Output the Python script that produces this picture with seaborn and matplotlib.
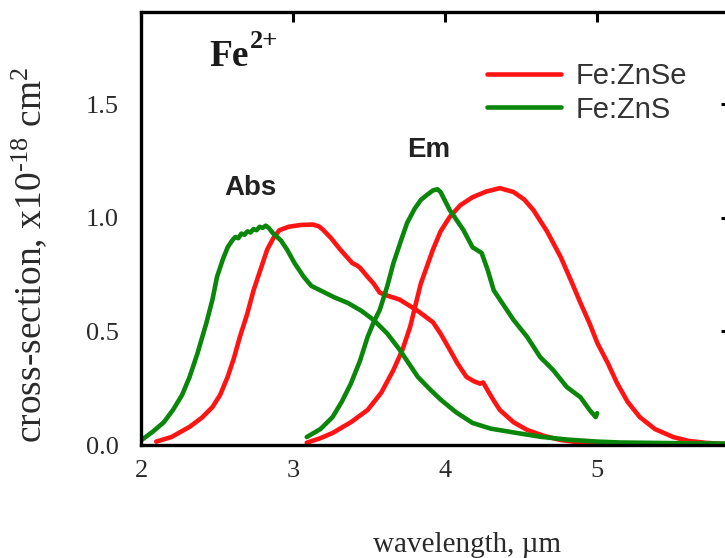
import matplotlib
matplotlib.use("Agg")
import matplotlib.pyplot as plt
import seaborn as sns
import pandas as pd

# ---- data ----
abs_znse_x = [2.10, 2.20, 2.32, 2.40, 2.47, 2.52, 2.57, 2.61, 2.65, 2.70, 2.74, 2.79, 2.83, 2.87, 2.91, 2.97,
              3.05, 3.13, 3.17, 3.20, 3.25, 3.31, 3.35, 3.39, 3.42, 3.44, 3.49, 3.53, 3.57, 3.63, 3.70, 3.76,
              3.82, 3.87, 3.92, 3.97, 4.03, 4.08, 4.14, 4.19, 4.23, 4.25, 4.28, 4.32, 4.36, 4.45, 4.54, 4.65,
              4.76, 4.90, 5.02, 5.30, 5.60, 5.88]
abs_znse_y = [0.015, 0.035, 0.08, 0.12, 0.167, 0.22, 0.30, 0.38, 0.475, 0.58, 0.68, 0.78, 0.86, 0.91, 0.945, 0.96,
              0.968, 0.97, 0.962, 0.945, 0.91, 0.86, 0.83, 0.80, 0.79, 0.78, 0.74, 0.71, 0.67, 0.655, 0.64, 0.615,
              0.59, 0.565, 0.54, 0.49, 0.42, 0.36, 0.30, 0.28, 0.27, 0.275, 0.24, 0.195, 0.154, 0.10, 0.066, 0.04,
              0.022, 0.01, 0.004, 0.002, 0.001, 0.001]

abs_zns_x = [2.00, 2.08, 2.15, 2.21, 2.27, 2.32, 2.37, 2.43, 2.47, 2.50, 2.54, 2.57, 2.60, 2.62, 2.64, 2.66,
             2.68, 2.70, 2.72, 2.74, 2.76, 2.78, 2.80, 2.82, 2.84, 2.87, 2.92, 2.96, 3.01, 3.07, 3.12, 3.18,
             3.27, 3.36, 3.45, 3.53, 3.62, 3.70, 3.76, 3.82, 3.90, 3.97, 4.07, 4.18, 4.30, 4.47, 4.63, 4.80,
             5.00, 5.15, 5.40, 5.65, 5.88]
abs_zns_y = [0.02, 0.06, 0.10, 0.154, 0.22, 0.30, 0.40, 0.537, 0.64, 0.74, 0.82, 0.87, 0.90, 0.915, 0.91, 0.93,
             0.925, 0.94, 0.935, 0.95, 0.945, 0.96, 0.955, 0.965, 0.955, 0.93, 0.90, 0.86, 0.80, 0.74, 0.70, 0.68,
             0.65, 0.625, 0.59, 0.55, 0.49, 0.42, 0.36, 0.30, 0.245, 0.20, 0.145, 0.097, 0.072, 0.053, 0.036, 0.024,
             0.015, 0.011, 0.009, 0.007, 0.006]

em_znse_x = [3.09, 3.18, 3.26, 3.38, 3.49, 3.58, 3.66, 3.72, 3.77, 3.84, 3.92, 3.97, 4.03, 4.10, 4.18, 4.27,
             4.36, 4.45, 4.52, 4.58, 4.67, 4.76, 4.83, 4.89, 4.95, 5.00, 5.07, 5.13, 5.20, 5.28, 5.38, 5.50,
             5.60, 5.72, 5.88]
em_znse_y = [0.01, 0.03, 0.053, 0.10, 0.154, 0.23, 0.33, 0.42, 0.52, 0.71, 0.86, 0.94, 1.003, 1.055, 1.09, 1.115,
             1.13, 1.113, 1.08, 1.034, 0.94, 0.827, 0.72, 0.625, 0.535, 0.45, 0.36, 0.273, 0.19, 0.123, 0.07, 0.035,
             0.018, 0.009, 0.003]

em_zns_x = [3.09, 3.18, 3.26, 3.32, 3.38, 3.44, 3.49, 3.53, 3.57, 3.62, 3.66, 3.71, 3.75, 3.80, 3.84, 3.88,
            3.92, 3.95, 3.97, 4.03, 4.12, 4.18, 4.24, 4.28, 4.32, 4.36, 4.45, 4.54, 4.625, 4.71, 4.80, 4.89,
            4.95, 4.99, 5.00]
em_zns_y = [0.035, 0.07, 0.123, 0.19, 0.27, 0.37, 0.475, 0.54, 0.594, 0.70, 0.80, 0.90, 0.977, 1.04, 1.078, 1.10,
            1.12, 1.125, 1.113, 1.034, 0.946, 0.87, 0.845, 0.77, 0.68, 0.64, 0.55, 0.475, 0.387, 0.33, 0.255, 0.21,
            0.154, 0.123, 0.14]

legend_labels = ["Fe:ZnSe", "Fe:ZnS"]
x_ticks = [2, 3, 4, 5]
y_ticks = [0.0, 0.5, 1.0, 1.5]
y_ticklabels = ["0.0", "0.5", "1.0", "1.5"]

# ---- long-form table ----
frames = []
for xs, ys, mat, kind in [(abs_znse_x, abs_znse_y, "Fe:ZnSe", "Abs"),
                          (em_znse_x, em_znse_y, "Fe:ZnSe", "Em"),
                          (abs_zns_x, abs_zns_y, "Fe:ZnS", "Abs"),
                          (em_zns_x, em_zns_y, "Fe:ZnS", "Em")]:
    frames.append(pd.DataFrame({"wl": xs, "cs": ys, "material": mat, "kind": kind}))
df = pd.concat(frames, ignore_index=True)

sns.set_theme(style="white")
plt.rcParams["font.family"] = ["Liberation Serif", "DejaVu Serif"]
plt.rcParams["mathtext.fontset"] = "custom"
plt.rcParams["mathtext.rm"] = "Liberation Serif"
plt.rcParams["mathtext.it"] = "Liberation Serif:italic"
plt.rcParams["mathtext.bf"] = "Liberation Serif:bold"

W, H = 725, 558
fig = plt.figure(figsize=(W / 100, H / 100), dpi=100)
left_px, right_px, top_px, bot_px = 141, 731, 12, 445
ax = fig.add_axes([left_px / W, 1 - bot_px / H, (right_px - left_px) / W, (bot_px - top_px) / H])

red = "#ff1414"
green = "#0a870a"
sns.lineplot(data=df, x="wl", y="cs", hue="material", units="kind", estimator=None,
             palette={"Fe:ZnSe": red, "Fe:ZnS": green}, hue_order=legend_labels,
             linewidth=3.3, ax=ax, sort=False)

ax.set_xlim(2, 5.88)
ax.set_ylim(0, 1.905)
ax.set_xticks(x_ticks)
ax.set_xticklabels([str(t) for t in x_ticks])
ax.set_yticks(y_ticks)
ax.set_yticklabels(y_ticklabels)
ax.tick_params(axis="both", direction="in", length=7, width=2.2, labelsize=19,
               labelcolor="#2a2a2a", color="black", top=True, right=True)
ax.tick_params(axis="x", pad=11)
ax.tick_params(axis="y", pad=16)
for s in ax.spines.values():
    s.set_linewidth(2.4)
    s.set_color("black")

ax.set_xlabel("wavelength, µm", fontsize=21, color="#2a2a2a")
ax.set_ylabel("cross-section, x10$^{\\text{-}18}$ cm$^{2}$", fontsize=27, color="#2a2a2a")
ax.xaxis.set_label_coords(0.553, -0.20)
ax.yaxis.set_label_coords(-0.155, 0.44)

fe = ax.text(2.45, 1.667, "Fe", fontsize=27, fontweight="bold",
             ha="left", va="baseline", color="#1a1a1a")
ax.annotate("2+", xy=(1.0, 1.0), xycoords=fe, xytext=(1, -2), textcoords="offset points",
            fontsize=19, fontweight="bold", ha="left", va="center", color="#1a1a1a")
ax.text(2.72, 1.13, "Abs", fontsize=20, fontweight="bold", family="Liberation Sans",
        ha="center", va="center", color="#222222")
ax.text(3.89, 1.30, "Em", fontsize=20, fontweight="bold", family="Liberation Sans",
        ha="center", va="center", color="#222222")

handles, labels = ax.get_legend_handles_labels()
leg = ax.legend(handles, labels, loc="upper left", bbox_to_anchor=(0.586, 0.885),
                frameon=False, handlelength=2.55, handletextpad=0.5,
                labelspacing=0.2, borderpad=0, borderaxespad=0,
                prop={"family": "Liberation Sans", "size": 21})
for t in leg.get_texts():
    t.set_color("#333333")
for h in leg.get_lines():
    h.set_linewidth(3.3)

fig.savefig("out.png", dpi=100)
